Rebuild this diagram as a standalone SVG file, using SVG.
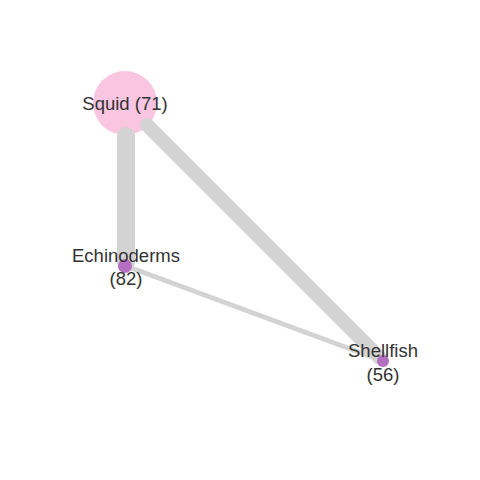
<svg xmlns="http://www.w3.org/2000/svg" width="480" height="480" viewBox="0 0 480 480">
<style>
.edge{stroke:#d3d3d3;stroke-linecap:round;fill:none}
.lbl{font-family:"Liberation Sans",Arial,sans-serif;font-size:18.5px;fill:#333;text-anchor:middle}
.small{fill:#b56fc1}
</style>
<rect width="480" height="480" fill="#fff"/>
<g id="node-squid"><circle cx="125" cy="103" r="32" fill="#f9c5e1"/></g>
<g id="connectors">
<line class="edge" x1="126" y1="136" x2="126" y2="262" stroke-width="18"/>
<line class="edge" x1="147" y1="125" x2="380" y2="358" stroke-width="14"/>
<line class="edge" x1="126" y1="266" x2="383" y2="361" stroke-width="5"/>
</g>
<g id="node-echinoderms"><circle class="small" cx="125" cy="266" r="7"/></g>
<g id="node-shellfish"><circle class="small" cx="383" cy="361" r="6"/></g>
<g id="labels">
<text class="lbl" x="125" y="110">Squid (71)</text>
<text class="lbl" x="126" y="262">Echinoderms</text>
<text class="lbl" x="126" y="285">(82)</text>
<text class="lbl" x="383" y="357">Shellfish</text>
<text class="lbl" x="383" y="381">(56)</text>
</g>
</svg>
